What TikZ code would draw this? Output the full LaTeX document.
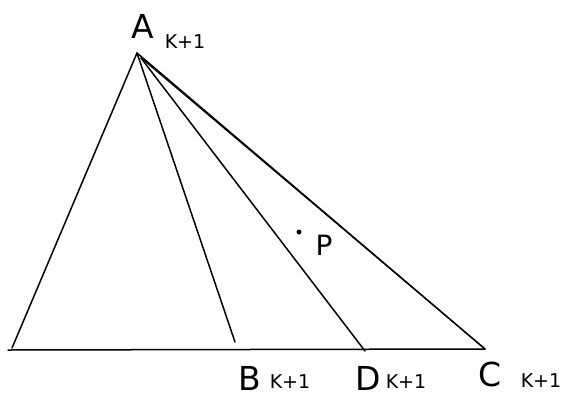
\documentclass[tikz,border=0pt]{standalone}
\usepackage{fontspec}
\setmainfont{DejaVu Sans}
\begin{document}
\begin{tikzpicture}[x=1pt,y=-1pt,
  edge/.style={line width=1.5pt, line cap=round},
  big/.style={font=\fontsize{33}{36}\selectfont, inner sep=0pt},
  sub/.style={font=\fontsize{19}{21}\selectfont, inner sep=0pt}]
\useasboundingbox (0,0) rectangle (565,400);
\coordinate (A) at (137,53);
\coordinate (L) at (12,348);
\coordinate (BL) at (8,350);
\coordinate (B) at (235,342);
\coordinate (D) at (365,351);
\coordinate (C) at (485,349);
\coordinate (A2) at (141,58);
\draw[edge] (A) -- (L);
\draw[edge] (BL) -- (C);
\draw[edge] (A) -- (B);
\draw[edge] (A2) -- (D);
\draw[edge] (A) -- (C);
\draw[line width=1pt] (A2) -- (C);
\fill (299,232) circle (2.5pt) node (Pdot) {};
\node[big] (lA) at (143,26) {A};
\node[sub] (sA) at (185,42) {K+1};
\node[font=\fontsize{28}{30}\selectfont, inner sep=0pt] (lP) at (324,245) {P};
\node[big] (lB) at (250,378) {B};
\node[sub] (sB) at (290,382) {K+1};
\node[big] (lD) at (368,378) {D};
\node[sub] (sD) at (406,382) {K+1};
\node[big] (lC) at (490,374) {C};
\node[sub] (sC) at (541,381) {K+1};
\end{tikzpicture}
\end{document}
